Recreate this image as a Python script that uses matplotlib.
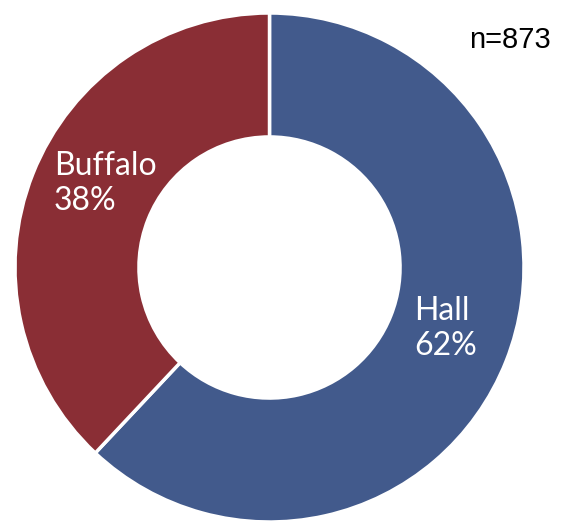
import matplotlib
matplotlib.use("Agg")
import matplotlib.pyplot as plt

categories = ["Hall", "Buffalo"]
values = [62, 38]
colors = ["#425A8C", "#8A2E35"]
n_label = "n=873"

fig = plt.figure(figsize=(5.62, 5.25), dpi=100)
cx, cy, R = 269.5, 267.5, 254.5
W, H = 562, 525
ax = fig.add_axes([(cx - R) / W, (H - cy - R) / H, 2 * R / W, 2 * R / H])
ax.pie(values, colors=colors, startangle=90, counterclock=False, radius=1,
       wedgeprops=dict(width=0.487, edgecolor="white", linewidth=2.5))
ax.set_xlim(-1, 1)
ax.set_ylim(-1, 1)
ax.set_aspect("equal")
ax.axis("off")

def d(px, py):
    return (px - cx) / R, (cy - py) / R

fs = 23
font = "Lato"
label_pos = {"Buffalo": [(54, 175), (54, 210)], "Hall": [(414, 320), (414, 355)]}
for cat, val in zip(categories, values):
    (x1, y1), (x2, y2) = label_pos[cat]
    ax.text(*d(x1, y1), cat, color="white", fontsize=fs, family=font,
            fontweight="normal", ha="left", va="baseline")
    ax.text(*d(x2, y2), f"{val}%", color="white", fontsize=fs, family=font,
            fontweight="normal", ha="left", va="baseline")

fig.text(551 / W, (H - 48) / H, n_label, ha="right", va="baseline",
         fontsize=21, family="Liberation Sans", color="black")

fig.savefig("out.png", dpi=100)
